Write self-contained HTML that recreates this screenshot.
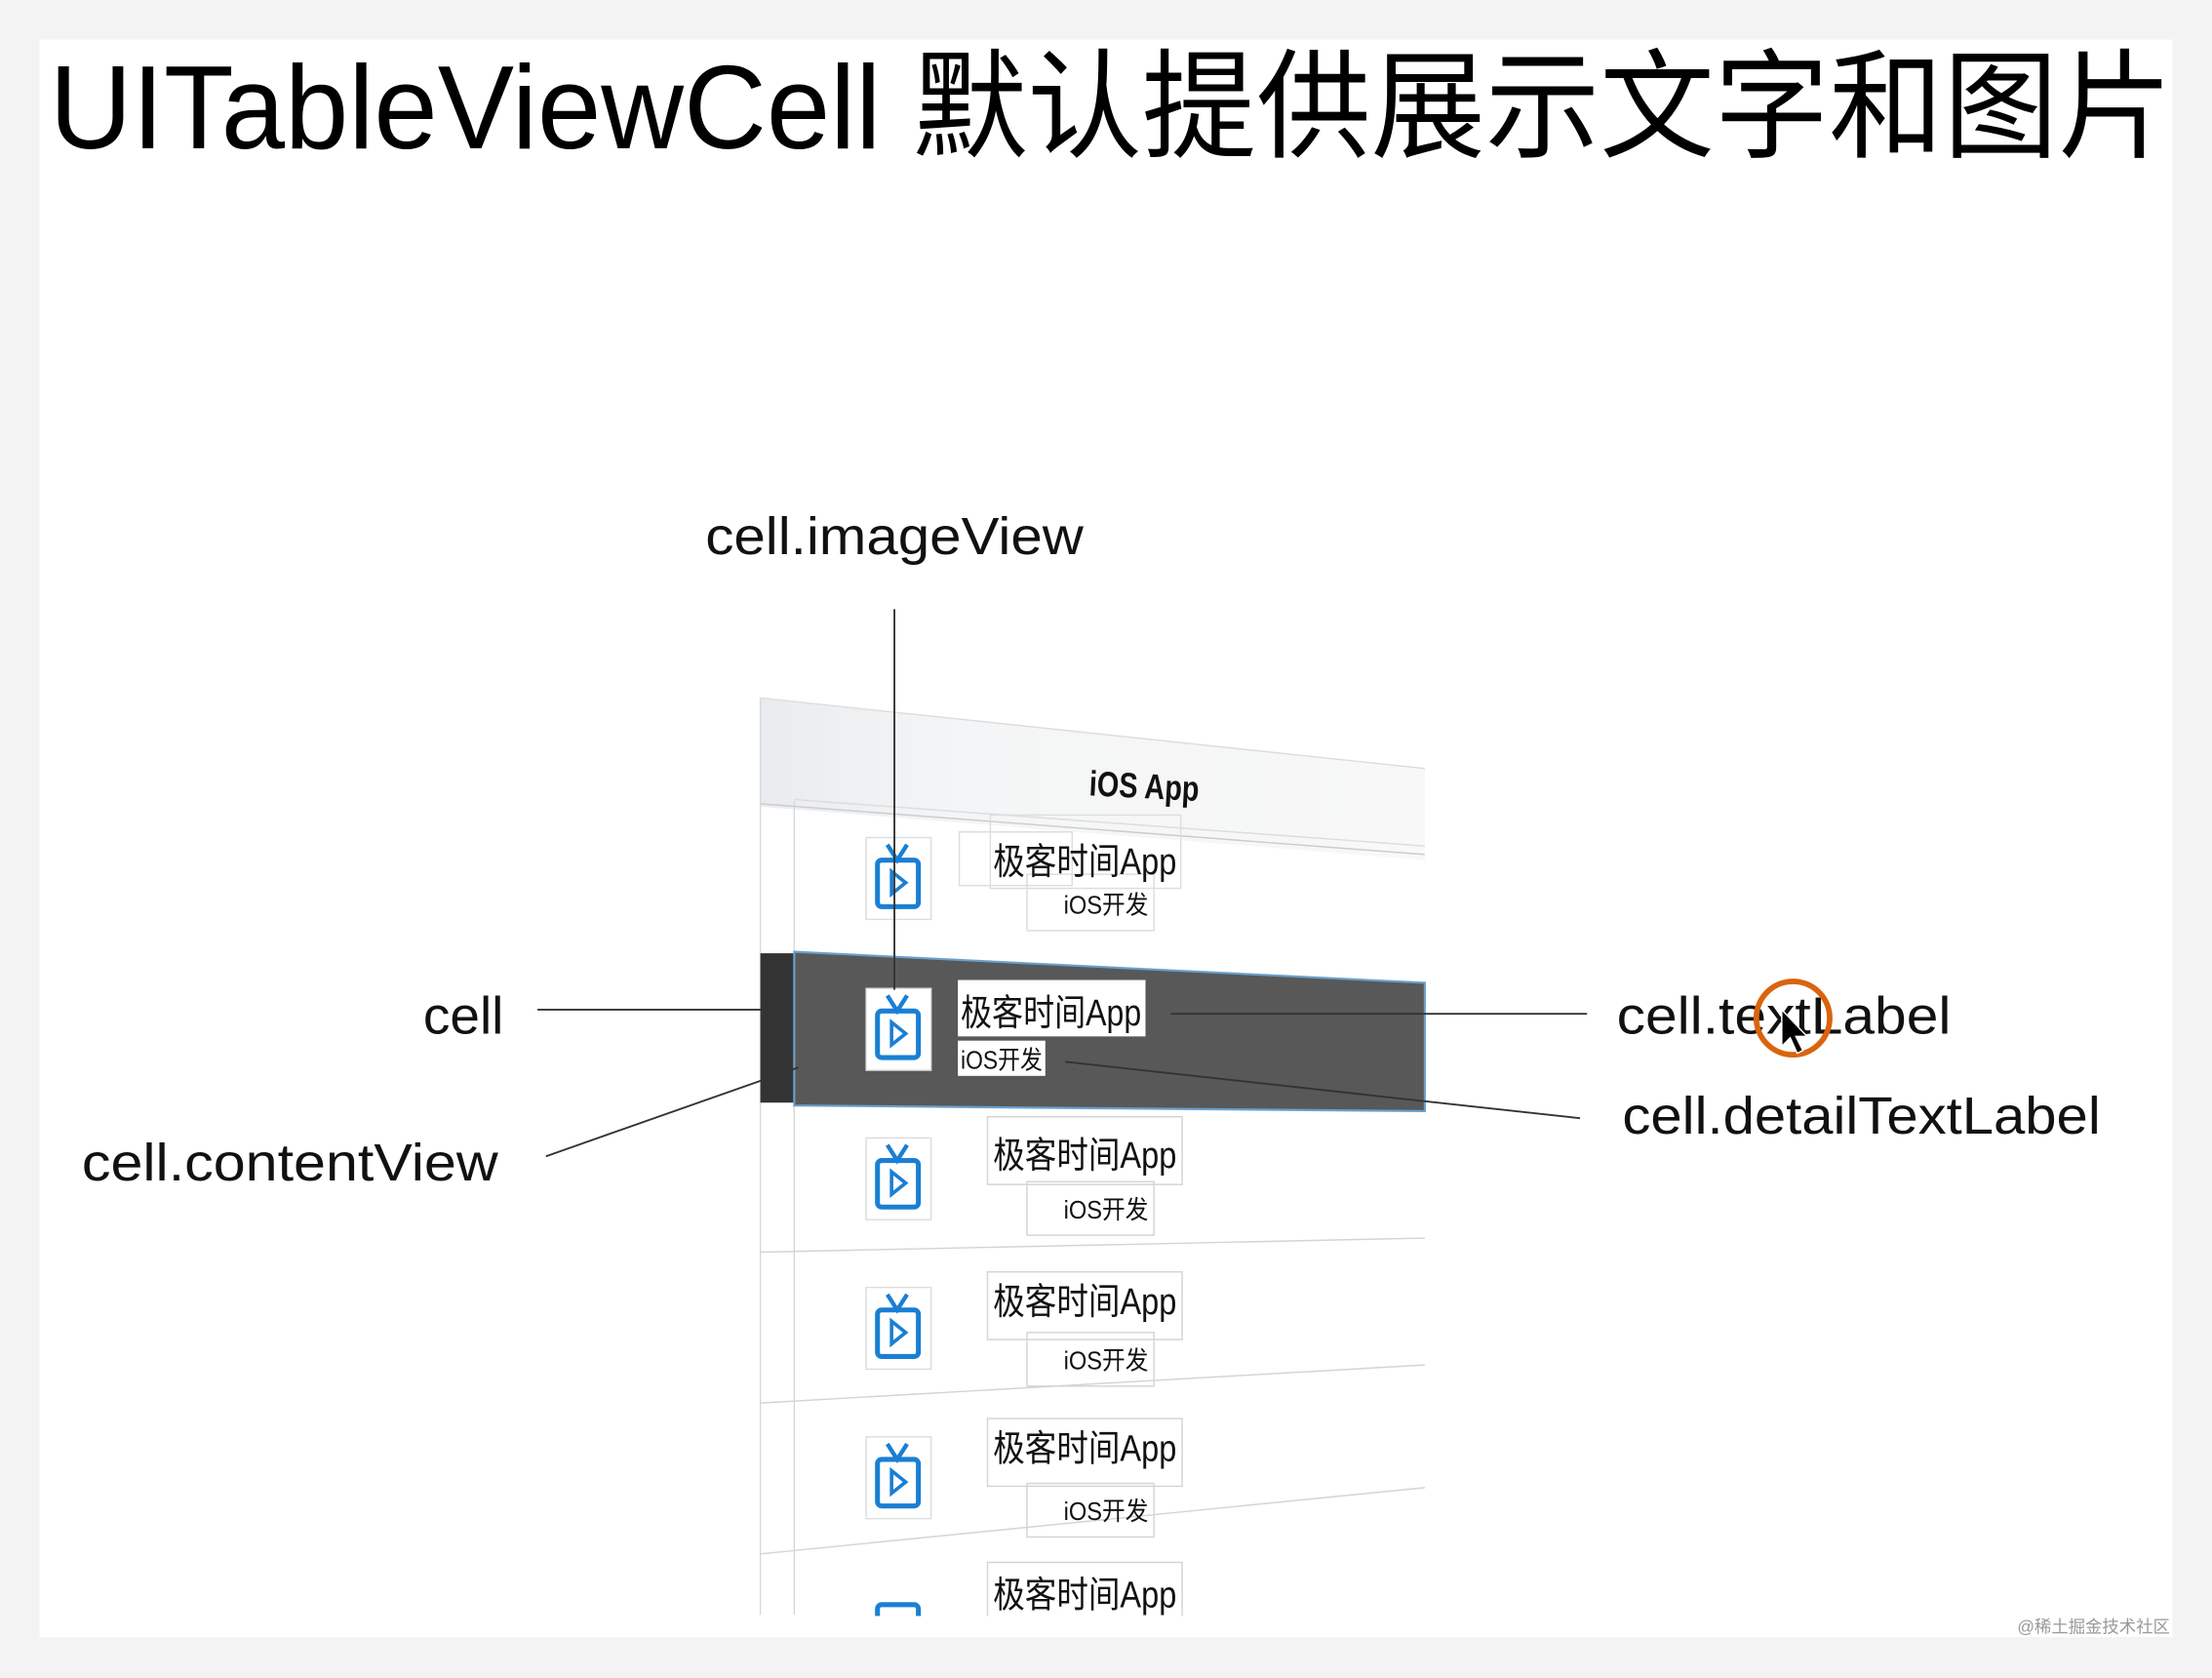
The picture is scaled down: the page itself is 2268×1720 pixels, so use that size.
<!DOCTYPE html>
<html><head><meta charset="utf-8"><style>
html,body{margin:0;padding:0;background:#f3f3f3;}
svg{display:block;}
text{font-family:"Liberation Sans","Noto Sans CJK SC",sans-serif;}
</style></head><body>
<svg width="2268" height="1720" viewBox="0 0 1568 1190" preserveAspectRatio="none" xmlns="http://www.w3.org/2000/svg">
<defs>
<linearGradient id="hdr" x1="0" y1="0" x2="1" y2="0">
<stop offset="0" stop-color="#e9ecef"/><stop offset="0.3" stop-color="#f4f5f6"/><stop offset="1" stop-color="#f8f8f8"/>
</linearGradient>
<g id="tv">
<rect x="-22" y="-28" width="46" height="58" fill="#fff" stroke="#ddd" stroke-width="1"/>
<rect x="-14" y="-12" width="29" height="33" rx="3" fill="none" stroke="#1a7fd4" stroke-width="3.5"/>
<path d="M-7,-23 L0,-12 L7,-23" fill="none" stroke="#1a7fd4" stroke-width="3"/>
<path d="M-4,-4 L6,4 L-4,12 Z" fill="none" stroke="#1a7fd4" stroke-width="2.5"/>
</g>
</defs>
<rect x="0" y="0" width="1568" height="1190" fill="#f3f3f3"/>
<rect x="28" y="28" width="1512" height="1133" fill="#fff"/>
<text x="35" y="105" font-size="84" textLength="1505" lengthAdjust="spacingAndGlyphs" fill="#000">UITableViewCell 默认提供展示文字和图片</text>

<!-- table -->
<polygon points="539,495 1010,545 1010,610 539,572" fill="url(#hdr)"/>
<line x1="539" y1="495" x2="1010" y2="545" stroke="#ddd"/>
<line x1="539" y1="570" x2="1010" y2="606" stroke="#ccc"/>
<line x1="563" y1="567" x2="1010" y2="600" stroke="#ddd"/>
<text x="772" y="566" font-size="25" font-weight="bold" fill="#111" textLength="78" lengthAdjust="spacingAndGlyphs" transform="rotate(3 810 560)">iOS App</text>
<line x1="539" y1="495" x2="539" y2="1145" stroke="#d8d8d8"/>
<line x1="563" y1="568" x2="563" y2="1145" stroke="#d8d8d8"/>

<!-- row 1 -->
<use href="#tv" x="636" y="622"/>
<rect x="680" y="590" width="80" height="38" fill="none" stroke="#ddd"/>
<rect x="702" y="578" width="135" height="52" fill="none" stroke="#ddd"/>
<rect x="728" y="620" width="90" height="40" fill="none" stroke="#ddd"/>
<text x="704" y="620" font-size="26" fill="#111" textLength="130" lengthAdjust="spacingAndGlyphs">极客时间App</text>
<text x="754" y="648" font-size="18" fill="#111" textLength="60" lengthAdjust="spacingAndGlyphs">iOS开发</text>

<!-- highlighted row -->
<polygon points="539,676 563,676 563,782 539,782" fill="#333"/>
<polygon points="563,675 1010,697 1010,788 563,784" fill="#585858" stroke="#6aa0cc" stroke-width="1.5"/>
<use href="#tv" x="636" y="729"/>
<rect x="679" y="695" width="133" height="40" fill="#fff"/>
<text x="681" y="727" font-size="26" fill="#111" textLength="128" lengthAdjust="spacingAndGlyphs">极客时间App</text>
<rect x="679" y="738" width="62" height="25" fill="#fff"/>
<text x="681" y="758" font-size="18" fill="#111" textLength="58" lengthAdjust="spacingAndGlyphs">iOS开发</text>

<!-- rows below -->
<g stroke="#d4d4d4" fill="none">
<line x1="539" y1="888" x2="1010" y2="878"/>
<line x1="539" y1="995" x2="1010" y2="968"/>
<line x1="539" y1="1102" x2="1010" y2="1055"/>
<rect x="700" y="792" width="138" height="48"/><rect x="728" y="838" width="90" height="38"/>
<rect x="700" y="902" width="138" height="48"/><rect x="728" y="945" width="90" height="38"/>
<rect x="700" y="1006" width="138" height="48"/><rect x="728" y="1052" width="90" height="38"/>
<rect x="700" y="1108" width="138" height="40"/>
</g>
<use href="#tv" x="636" y="835"/>
<text x="704" y="828" font-size="26" fill="#111" textLength="130" lengthAdjust="spacingAndGlyphs">极客时间App</text>
<text x="754" y="864" font-size="18" fill="#111" textLength="60" lengthAdjust="spacingAndGlyphs">iOS开发</text>
<use href="#tv" x="636" y="941"/>
<text x="704" y="932" font-size="26" fill="#111" textLength="130" lengthAdjust="spacingAndGlyphs">极客时间App</text>
<text x="754" y="971" font-size="18" fill="#111" textLength="60" lengthAdjust="spacingAndGlyphs">iOS开发</text>
<use href="#tv" x="636" y="1047"/>
<text x="704" y="1036" font-size="26" fill="#111" textLength="130" lengthAdjust="spacingAndGlyphs">极客时间App</text>
<text x="754" y="1078" font-size="18" fill="#111" textLength="60" lengthAdjust="spacingAndGlyphs">iOS开发</text>
<text x="704" y="1140" font-size="26" fill="#111" textLength="130" lengthAdjust="spacingAndGlyphs">极客时间App</text>
<rect x="614" y="1130" width="46" height="20" fill="#fff"/>
<rect x="622" y="1138" width="29" height="20" rx="3" fill="none" stroke="#1a7fd4" stroke-width="3.5"/>
<rect x="28" y="1146" width="1512" height="15" fill="#fff"/>

<!-- labels & lines -->
<g fill="#111" font-size="37">
<text x="500" y="393" textLength="268" lengthAdjust="spacingAndGlyphs">cell.imageView</text>
<text x="300" y="733" textLength="57" lengthAdjust="spacingAndGlyphs">cell</text>
<text x="58" y="837" textLength="295" lengthAdjust="spacingAndGlyphs">cell.contentView</text>
<text x="1146" y="733" textLength="237" lengthAdjust="spacingAndGlyphs">cell.textLabel</text>
<text x="1150" y="804" textLength="339" lengthAdjust="spacingAndGlyphs">cell.detailTextLabel</text>
</g>
<g stroke="#333" stroke-width="1.3">
<line x1="634" y1="432" x2="634" y2="702"/>
<line x1="381" y1="716" x2="540" y2="716"/>
<line x1="387" y1="820" x2="566" y2="757"/>
<line x1="830" y1="719" x2="1125" y2="719"/>
<line x1="755" y1="753" x2="1120" y2="793"/>
</g>
<circle cx="1271" cy="722" r="26" fill="none" stroke="#d9640e" stroke-width="4"/>
<path d="M1263,716 L1263,742 L1269,736 L1274,747 L1278,745 L1273,735 L1281,735 Z" fill="#000" stroke="#fff" stroke-width="1"/>
<text x="1430" y="1158" font-size="12" fill="#999">@稀土掘金技术社区</text>
</svg>
</body></html>
